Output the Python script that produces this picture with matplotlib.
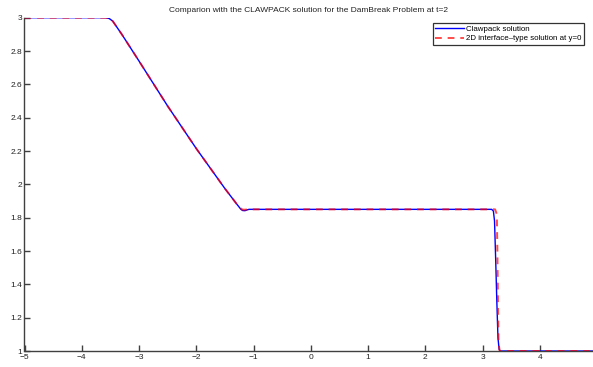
import matplotlib
matplotlib.use("Agg")
import matplotlib.pyplot as plt

plt.rcParams['font.family'] = ['Liberation Sans', 'DejaVu Sans']

title = "Comparion with the CLAWPACK solution for the DamBreak Problem at t=2"
labels = ["Clawpack solution", "2D interface\u2013type solution at y=0"]

# Clawpack solution
claw_x = [-5.0, -3.58, -3.52, -3.46, -3.3, -3.0, -2.5, -2.0, -1.5, -1.3, -1.22, -1.19,
          -1.15, -1.08, 0.0, 1.0, 2.0, 3.0, 3.16, 3.19, 3.21, 3.23, 3.25, 3.27, 3.29, 3.31, 4.0, 5.0]
claw_h = [3.0, 3.0, 2.995, 2.98, 2.90, 2.74, 2.47, 2.215, 1.975, 1.885, 1.85, 1.843,
          1.842, 1.85, 1.85, 1.85, 1.85, 1.85, 1.85, 1.84, 1.78, 1.55, 1.30, 1.08, 1.01, 1.0, 1.0, 1.0]

# 2D interface-type solution at y=0
iface_x = [-5.0, -3.58, -3.52, -3.46, -3.3, -3.0, -2.5, -2.0, -1.5, -1.3, -1.22, -1.19,
           -1.15, -1.08, 0.0, 1.0, 2.0, 3.0, 3.18, 3.22, 3.25, 3.26, 3.27, 3.28, 3.30, 4.0, 5.0]
iface_h = [3.0, 3.0, 2.995, 2.98, 2.90, 2.74, 2.47, 2.215, 1.975, 1.885, 1.855, 1.848,
           1.848, 1.85, 1.85, 1.85, 1.85, 1.85, 1.85, 1.85, 1.82, 1.6, 1.3, 1.05, 1.0, 1.0, 1.0]

xticks = [-5, -4, -3, -2, -1, 0, 1, 2, 3, 4]
yticks = [1.0, 1.2, 1.4, 1.6, 1.8, 2.0, 2.2, 2.4, 2.6, 2.8, 3.0]
ytick_labels = ["1", "1.2", "1.4", "1.6", "1.8", "2", "2.2", "2.4", "2.6", "2.8", "3"]
xtick_labels = ["\u22125", "\u22124", "\u22123", "\u22122", "\u22121", "0", "1", "2", "3", "4"]

fig = plt.figure(figsize=(5.93, 3.67), dpi=100)
ax = fig.add_axes([24.5 / 593, 16 / 367, 1 - 24.5 / 593, (351 - 17.7) / 367])

ax.plot(claw_x, claw_h, color='#0000ff', lw=1.0, label=labels[0], zorder=2)
ax.plot(iface_x, iface_h, color='#ff0000', lw=1.4, ls=(0, (3.5, 3)), alpha=0.7,
        label=labels[1], zorder=3)

ax.set_xlim(-5, 4.93)
ax.set_ylim(1, 3)
ax.set_xticks(xticks)
ax.set_xticklabels(xtick_labels)
ax.set_yticks(yticks)
ax.set_yticklabels(ytick_labels)

for s in ['top', 'right']:
    ax.spines[s].set_visible(False)
for s in ['left', 'bottom']:
    ax.spines[s].set_color('#404040')
    ax.spines[s].set_linewidth(1.0)

ax.tick_params(direction='in', length=4, width=1.0, color='#404040', labelsize=6.0,
               labelcolor='#222222')
ax.tick_params(axis='x', pad=2.5)
ax.tick_params(axis='y', pad=1.5)

ax.set_title(title, fontsize=6.0, pad=4, color='#222222')

leg = ax.legend(loc='upper right', bbox_to_anchor=(0.984, 0.984), fontsize=5.7,
                frameon=True, fancybox=False, handlelength=3.6, handletextpad=0.3,
                borderpad=0.3, labelspacing=0.25, borderaxespad=0.0)
leg.get_frame().set_edgecolor('black')
leg.get_frame().set_linewidth(0.9)

fig.savefig("out.png", dpi=100)
